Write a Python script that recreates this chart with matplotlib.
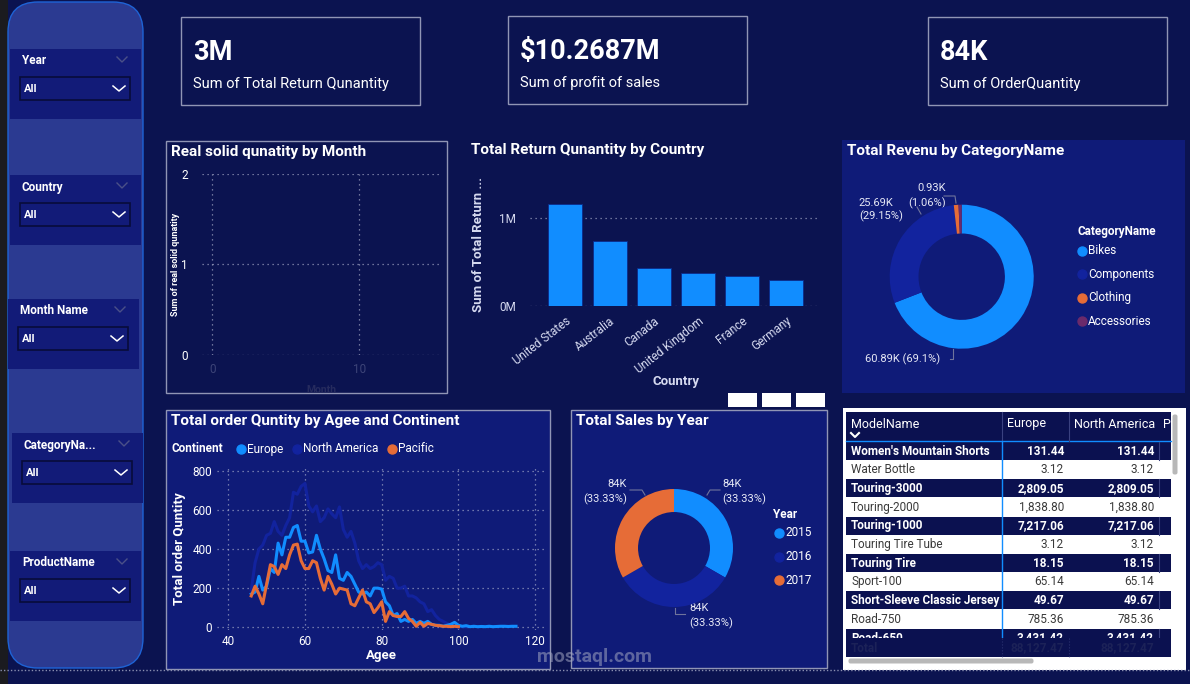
import numpy as np
import matplotlib
matplotlib.use("Agg")
import matplotlib.pyplot as plt
from matplotlib.patches import Rectangle, FancyBboxPatch
from matplotlib.transforms import Bbox, TransformedBbox

plt.rcParams['font.family'] = ['Roboto', 'DejaVu Sans']

# ---- data ----
kpi_values = ["3M", "$10.2687M", "84K"]
kpi_labels = ["Sum of Total Return Qunantity", "Sum of profit of sales", "Sum of OrderQuantity"]

slicers = ["Year", "Country", "Month Name", "CategoryNa...", "ProductName"]

countries = ["United States", "Australia", "Canada", "United Kingdom", "France", "Germany"]
returns = [1.15e6, 0.735e6, 0.43e6, 0.374e6, 0.34e6, 0.29e6]

categories = ["Bikes", "Components", "Clothing", "Accessories"]
revenue_k = [60.89, 25.69, 0.93, 0.62]
cat_colors = ["#118DFF", "#12239E", "#E66C37", "#6B2A6B"]

years = ["2015", "2016", "2017"]
sales_k = [84, 84, 84]
year_colors = ["#118DFF", "#12239E", "#E66C37"]

ages_eu = list(range(46, 116))
europe = [170, 180, 260, 190, 210, 300, 280, 430, 370, 460, 460, 510, 520, 440, 440,
          380, 385, 470, 400, 350, 290, 280, 370, 250, 240, 280, 260, 220, 180, 170,
          180, 160, 200, 200, 195, 130, 110, 60, 70, 30, 40, 30, 40, 20, 30,
          20, 30, 15, 10, 10, 5, 10, 15, 25, 10, 5, 8, 3, 5, 3,
          4, 3, 5, 3, 4, 5, 5, 4, 5, 5]
ages_na = list(range(46, 103))
north_america = [190, 330, 400, 420, 470, 480, 540, 490, 470, 520, 560, 690, 680, 720, 735,
                 620, 590, 620, 540, 560, 605, 580, 560, 615, 500, 460, 490, 430, 340, 300,
                 320, 300, 310, 330, 320, 240, 260, 250, 200, 200, 210, 160, 160, 150, 130,
                 120, 80, 90, 60, 40, 30, 20, 10, 12, 5, 3, 2]
ages_pa = list(range(46, 101))
pacific = [160, 210, 170, 120, 220, 320, 310, 270, 320, 300, 370, 420, 425, 340, 300,
           300, 340, 330, 250, 190, 260, 220, 170, 200, 195, 190, 120, 110, 150, 190,
           130, 120, 75, 100, 130, 30, 80, 60, 55, 55, 80, 45, 30, 5, 25,
           5, 20, 15, 10, 8, 5, 5, 3, 5, 3]

models = ["Women's Mountain Shorts", "Water Bottle", "Touring-3000", "Touring-2000", "Touring-1000",
          "Touring Tire Tube", "Touring Tire", "Sport-100", "Short-Sleeve Classic Jersey",
          "Road-750", "Road-650"]
europe_sales = [131.44, 3.12, 2809.05, 1838.80, 7217.06, 3.12, 18.15, 65.14, 49.67, 785.36, 3431.42]
na_sales = [131.44, 3.12, 2809.05, 1838.80, 7217.06, 3.12, 18.15, 65.14, 49.67, 785.36, 3431.42]
total_sales = 88127.47

# ---- colours ----
PAGE = "#0B1350"
PANEL = "#0F1B78"
SLICER_BG = "#2B3A91"
SLICER_BOX = "#121B78"
BORDER = "#9095B5"
WHITE = "#FFFFFF"
GRID = "#AEB3CF"

W, H = 1190, 684
fig = plt.figure(figsize=(W / 100, H / 100), dpi=100, facecolor=PAGE)

def box(x, y, w, h):
    return [x / W, 1 - (y + h) / H, w / W, h / H]

bg = fig.add_axes([0, 0, 1, 1])
bg.set_xlim(0, W)
bg.set_ylim(H, 0)
bg.axis('off')
bg.patch.set_alpha(0)

def rect(x, y, w, h, fc, ec='none', lw=1, z=1, ls='-'):
    bg.add_patch(Rectangle((x, y), w, h, facecolor=fc, edgecolor=ec, linewidth=lw, zorder=z, linestyle=ls))

def chevron(x, y, w, h, color, lw=1.2):
    bg.plot([x, x + w / 2, x + w], [y, y + h, y], color=color, lw=lw, zorder=5)

# left strip + slicer panel
rect(0, 0, 8, H, "#1B1B1F", z=0)
bg.add_patch(FancyBboxPatch((22, 16), 107, 638, boxstyle="round,pad=14,rounding_size=30",
                            facecolor=SLICER_BG, edgecolor="#1E63D6", linewidth=1, zorder=1))

slicer_y = [49, 175, 299, 433, 551]
slicer_x = [10, 10, 8, 12, 10]
for name, y0, x0 in zip(slicers, slicer_y, slicer_x):
    rect(x0, y0, 131, 70, SLICER_BOX, z=2)
    bg.text(x0 + 12, y0 + 12, name, color=WHITE, fontsize=8.5, fontweight='bold', va='center', zorder=3)
    chevron(x0 + 107, y0 + 8, 10, 5, "#4A5088", lw=1)
    rect(x0 + 10, y0 + 28, 110, 23, SLICER_BOX, ec="#080C3A", lw=1.2, z=3)
    bg.text(x0 + 14, y0 + 40, "All", color=WHITE, fontsize=8, fontweight='bold', va='center', zorder=4)
    chevron(x0 + 103, y0 + 37, 12, 5, WHITE, lw=1.1)

# KPI cards
for (x0, y0), v, lab in zip([(181, 17), (508, 16), (928, 17)], kpi_values, kpi_labels):
    rect(x0, y0, 239, 88, PAGE, ec=BORDER, lw=1, z=2)
    bg.text(x0 + 12, y0 + 36, v, color=WHITE, fontsize=19.5, fontweight='bold', va='center', zorder=3)
    bg.text(x0 + 12, y0 + 67, lab, color=WHITE, fontsize=10.5, va='center', zorder=3)

# panel frames
rect(166, 141, 281, 252, PAGE, ec=BORDER, lw=1, z=2)
rect(842, 140, 343, 253, PANEL, z=2)
rect(166, 410, 384, 259, PANEL, ec=BORDER, lw=1, z=2)
rect(571, 410, 256, 258, PANEL, ec=BORDER, lw=1, z=2)
rect(843, 408, 343, 262, WHITE, z=2)

# titles
tkw = dict(color=WHITE, fontsize=11, fontweight='bold', va='center', zorder=6)
bg.text(171, 152, "Real solid qunatity by Month", **tkw)
bg.text(471, 150, "Total Return Qunantity by Country", **tkw)
bg.text(847, 151, "Total Revenu by CategoryName", **tkw)
bg.text(171, 421, "Total order Quntity by Agee and Continent", **tkw)
bg.text(576, 421, "Total Sales by Year", **tkw)

# visual header icons
for x0 in [728, 762, 796]:
    rect(x0, 393, 29, 14, WHITE, z=6)

# ---- Real solid quantity by month (empty) ----
ax1 = fig.add_axes(box(201.7, 173.7, 240, 181.3))
ax1.patch.set_alpha(0)
ax1.set_zorder(5)
ax1.set_xlim(-0.72, 15.6)
ax1.set_ylim(0, 2)
ax1.set_xticks([0, 10])
ax1.set_yticks([0, 1, 2])
ax1.grid(True, color=GRID, ls=(0, (1, 3)), lw=0.9, alpha=0.8)
for s in ax1.spines.values():
    s.set_visible(False)
ax1.tick_params(length=0, labelsize=8.5, pad=8)
ax1.tick_params(axis='y', colors=WHITE, pad=10)
ax1.tick_params(axis='x', colors="#3D4478", pad=6)
ax1.set_xlabel("Month", color="#262B5E", fontsize=7.5, fontweight='bold', labelpad=6)
bg.text(176, 264, "Sum of real solid qunatity", rotation=90, color=WHITE, fontsize=6.5,
        fontweight='bold', ha='center', va='center', zorder=6)

# ---- bar chart ----
ax2 = fig.add_axes(box(530, 170, 290, 136))
ax2.patch.set_alpha(0)
ax2.set_zorder(5)
ax2.bar(range(len(countries)), returns, width=0.77, color="#118DFF", edgecolor="#0B2A8A", lw=0.6, zorder=3)
ax2.set_xlim(-0.8, 5.76)
ax2.set_ylim(0, 1.538e6)
ax2.set_yticks([0, 1e6])
ax2.set_yticklabels(["0M", "1M"])
ax2.yaxis.grid(True, color=GRID, ls=(0, (1, 3)), lw=0.9, alpha=0.8)
ax2.set_xticks(range(len(countries)))
ax2.set_xticklabels(countries, rotation=38, ha='right', rotation_mode='anchor')
for s in ax2.spines.values():
    s.set_visible(False)
ax2.tick_params(length=0, colors="#D6DAF0", labelsize=8.5)
ax2.tick_params(axis='y', pad=10)
ax2.tick_params(axis='x', pad=6)
bg.text(676, 381, "Country", color="#D6DAF0", fontsize=9.5, fontweight='bold', ha='center', va='center', zorder=6)
bg.text(478, 245, "Sum of Total Return ...", rotation=90, color="#D6DAF0", fontsize=9.5,
        fontweight='bold', ha='center', va='center', zorder=6)

# ---- category donut ----
ax3 = fig.add_axes(box(889.7, 204.7, 144, 144))
ax3.set_zorder(5)
ax3.pie(revenue_k, colors=cat_colors, startangle=90, counterclock=False,
        wedgeprops=dict(width=0.4, edgecolor='none'))
ax3.set_xlim(-1, 1)
ax3.set_ylim(-1, 1)
tot = sum(revenue_k)
lkw = dict(color="#E6E8F5", fontsize=8, va='center', zorder=6)
bg.text(932, 188, f"{revenue_k[2]:.2f}K", ha='center', **lkw)
bg.text(927, 203, f"({revenue_k[2] / tot * 100:.2f}%)", ha='center', **lkw)
bg.text(893, 203, f"{revenue_k[1]:.2f}K", ha='right', **lkw)
bg.text(859, 216, f"({revenue_k[1] / tot * 100:.2f}%)", ha='left', **lkw)
bg.text(865, 359, f"{revenue_k[0]:.2f}K ({revenue_k[0] / tot * 100:.1f}%)", ha='left', **lkw)
bg.plot([944, 955, 956], [196, 196, 203], color="#6F749C", lw=0.8, zorder=6)
bg.plot([917, 921], [207, 214], color="#6F749C", lw=0.8, zorder=6)
bg.plot([950, 953, 953], [359, 359, 349], color="#6F749C", lw=0.8, zorder=6)
bg.text(1077, 231, "CategoryName", color=WHITE, fontsize=8.5, fontweight='bold', va='center', zorder=6)
for i, (c, col) in enumerate(zip(categories, cat_colors)):
    yy = 251 + i * 23.4
    bg.scatter([1082], [yy], s=42, color=col, zorder=6)
    bg.text(1088, yy, c, color=WHITE, fontsize=8.5, va='center', zorder=6)

# ---- age line chart ----
ax4 = fig.add_axes(box(216.7, 467.8, 330, 162.4))
ax4.patch.set_alpha(0)
ax4.set_zorder(5)
ax4.plot(ages_na, north_america, color="#12239E", lw=2.2, zorder=3)
ax4.plot(ages_eu, europe, color="#118DFF", lw=2.2, zorder=4)
ax4.plot(ages_pa, pacific, color="#E66C37", lw=2.2, zorder=5)
ax4.set_xlim(37, 123)
ax4.set_ylim(-15, 815)
ax4.set_xticks([40, 60, 80, 100, 120])
ax4.set_yticks([0, 200, 400, 600, 800])
ax4.grid(True, color=GRID, ls=(0, (1, 3)), lw=0.9, alpha=0.8)
for s in ax4.spines.values():
    s.set_visible(False)
ax4.tick_params(length=0, colors=WHITE, labelsize=8.5)
bg.text(381, 656, "Agee", color=WHITE, fontsize=9.5, fontweight='bold', ha='center', va='center', zorder=6)
bg.text(179, 549, "Total order Quntity", rotation=90, color=WHITE, fontsize=9.5,
        fontweight='bold', ha='center', va='center', zorder=6)
bg.text(171, 449, "Continent", color=WHITE, fontsize=8.5, fontweight='bold', va='center', zorder=6)
for name, col, x0 in [("Europe", "#118DFF", 241), ("North America", "#12239E", 297), ("Pacific", "#E66C37", 392)]:
    bg.scatter([x0], [449], s=42, color=col, zorder=6)
    bg.text(x0 + 6, 449, name, color=WHITE, fontsize=8.5, va='center', zorder=6)

# ---- year donut ----
ax5 = fig.add_axes(box(615, 489, 118, 118))
ax5.set_zorder(5)
ax5.pie(sales_k, colors=year_colors, startangle=90, counterclock=False,
        wedgeprops=dict(width=0.39, edgecolor='none'))
ax5.set_xlim(-1, 1)
ax5.set_ylim(-1, 1)
pct = 100 / len(sales_k)
bg.text(722, 484, f"{sales_k[0]}K", ha='left', **lkw)
bg.text(722, 499, f"({pct:.2f}%)", ha='left', **lkw)
bg.text(627, 484, f"{sales_k[2]}K", ha='right', **lkw)
bg.text(627, 499, f"({pct:.2f}%)", ha='right', **lkw)
bg.text(689, 608, f"{sales_k[1]}K", ha='left', **lkw)
bg.text(689, 623, f"({pct:.2f}%)", ha='left', **lkw)
bg.plot([707, 710, 720], [495, 490, 490], color="#6F749C", lw=0.8, zorder=6)
bg.plot([630, 642, 645], [490, 490, 495], color="#6F749C", lw=0.8, zorder=6)
bg.plot([675, 675, 685], [608, 614, 614], color="#6F749C", lw=0.8, zorder=6)
bg.text(773, 514, "Year", color=WHITE, fontsize=8.5, fontweight='bold', va='center', zorder=6)
for i, (yr, col) in enumerate(zip(years, year_colors)):
    yy = 533 + i * 23.5
    bg.scatter([779], [yy], s=42, color=col, zorder=6)
    bg.text(785, yy, yr, color=WHITE, fontsize=8.5, va='center', zorder=6)

# ---- table ----
DARK = "#0B1150"
rect(846, 412, 325, 29, DARK, z=3)
bg.plot([846, 1171], [441, 441], color="#118DFF", lw=1, zorder=4)
bg.text(851, 424, "ModelName", color=WHITE, fontsize=9, va='center', zorder=5)
bg.plot([851, 855, 859], [433, 437, 433], color=WHITE, lw=1.5, zorder=5)
bg.text(1007, 424, "Europe", color=WHITE, fontsize=9, va='center', zorder=5)
bg.text(1074, 424, "North America", color=WHITE, fontsize=9, va='center', zorder=5)
bg.text(1163, 424, "P", color=WHITE, fontsize=9, va='center', zorder=5)
for xl in [1002, 1069]:
    bg.plot([xl, xl], [412, 441], color="#3A4180", lw=0.8, zorder=4)

# clip region above the total row so the last row shows only partly
clip = TransformedBbox(Bbox([[846, 628], [1171, 638.3]]), bg.transData)
row_h = 18.7
for i, (m, e, n) in enumerate(zip(models, europe_sales, na_sales)):
    y0 = 441.7 + i * row_h
    dark = i % 2 == 0
    if dark:
        rect(846, y0, 325, row_h - 0.6, DARK, z=3)
        for xl in [1002, 1159]:
            bg.plot([xl, xl], [y0, min(y0 + row_h - 0.6, 638)], color="#3A4180", lw=0.8, zorder=4)
    tc = WHITE if dark else "#3A3A3A"
    fw = 'bold' if dark else 'normal'
    yc = y0 + row_h / 2
    texts = [bg.text(851, yc, m, color=tc, fontsize=8.5, fontweight=fw, va='center', zorder=5),
             bg.text(1064, yc, f"{e:,.2f}", color=tc, fontsize=8.5, fontweight=fw, va='center', ha='right', zorder=5),
             bg.text(1154, yc, f"{n:,.2f}", color=tc, fontsize=8.5, fontweight=fw, va='center', ha='right', zorder=5)]
    if i == len(models) - 1:
        for t in texts:
            t.set_clip_box(clip)
            t.set_clip_on(True)
bg.plot([1001.5, 1001.5], [441, 638], color="#118DFF", lw=1, zorder=6)
rect(846, 638.3, 325, 19, DARK, z=7)
bg.text(851, 648, "Total", color="#1C2258", fontsize=8.5, fontweight='bold', va='center', zorder=8)
bg.text(1064, 648, f"{total_sales:,.2f}", color="#1C2258", fontsize=8.5, fontweight='bold', va='center', ha='right', zorder=8)
bg.text(1154, 648, f"{total_sales:,.2f}", color="#1C2258", fontsize=8.5, fontweight='bold', va='center', ha='right', zorder=8)
for xl in [1002, 1069]:
    bg.plot([xl, xl], [638.3, 657.3], color="#2A3170", lw=0.8, ls=':', zorder=8)
bg.add_patch(FancyBboxPatch((1174, 416), 2, 57, boxstyle="round,pad=1.5,rounding_size=2",
                            facecolor="#B8B8B8", edgecolor='none', zorder=8))
bg.add_patch(FancyBboxPatch((850, 660), 182, 2, boxstyle="round,pad=1.5,rounding_size=2",
                            facecolor="#B8B8B8", edgecolor='none', zorder=8))

# bottom dotted rule and watermark
bg.plot([0, W], [670, 670], color="#8A8FB0", lw=1, ls=(0, (1, 1.5)), zorder=9)
bg.text(595, 657, "mostaql.com", color="#A0A4C0", alpha=0.55, fontsize=14, fontweight='bold',
        ha='center', va='center', zorder=10)

fig.savefig("out.png", dpi=100, facecolor=PAGE)
